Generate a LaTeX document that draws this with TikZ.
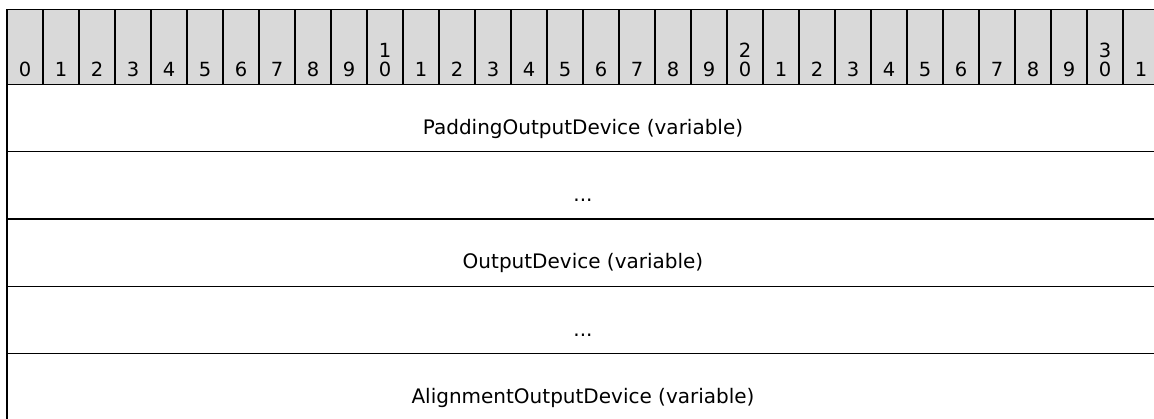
\documentclass[tikz,border=0pt]{standalone}
\usepackage{fontspec}
\setmainfont{DejaVu Sans}
\begin{document}
\begin{tikzpicture}[x=1pt, y=-1pt,
                    bitcell/.style = {draw, line width=1.3pt, fill=black!15, minimum width=36pt, minimum height=74.8pt, inner sep=0pt, outer sep=0pt, anchor=north west},
                    bitnum/.style = {anchor=south, inner sep=0pt, text depth=0pt, align=center, yshift=8pt, font=\fontsize{19.5}{19}\selectfont},
                    field/.style = {draw, line width=1.3pt, minimum width=1152pt, minimum height=67.3pt, inner sep=0pt, outer sep=0pt, text height=50pt, text depth=17.3pt, anchor=north west, font=\fontsize{20}{20}\selectfont}]
    \useasboundingbox (0,0) rectangle (1154,418);

    % header with the bit numbers
    \foreach \i in {0,...,31}
        {
        \pgfmathtruncatemacro\ones{mod(\i,10)}
        \pgfmathtruncatemacro\tens{\i/10}
        \ifnum\ones=0 \ifnum\i>0 \def\num{\tens\\0}\else\def\num{0}\fi\else\def\num{\ones}\fi
        \node[bitcell] (b\i) at ({7+36*\i},9.5) {};
        \node[bitnum] (n\i) at (b\i.south) {\num};
        }

    % fields
    \node[field] (padding) at (7,84.3) {PaddingOutputDevice (variable)};
    \node[field] (gap1) at (7,151.6) {...};
    \node[field] (device) at (7,218.9) {OutputDevice (variable)};
    \node[field] (gap2) at (7,286.2) {...};
    \node[field] (alignment) at (7,353.5) {AlignmentOutputDevice (variable)};
\end{tikzpicture}
\end{document}
